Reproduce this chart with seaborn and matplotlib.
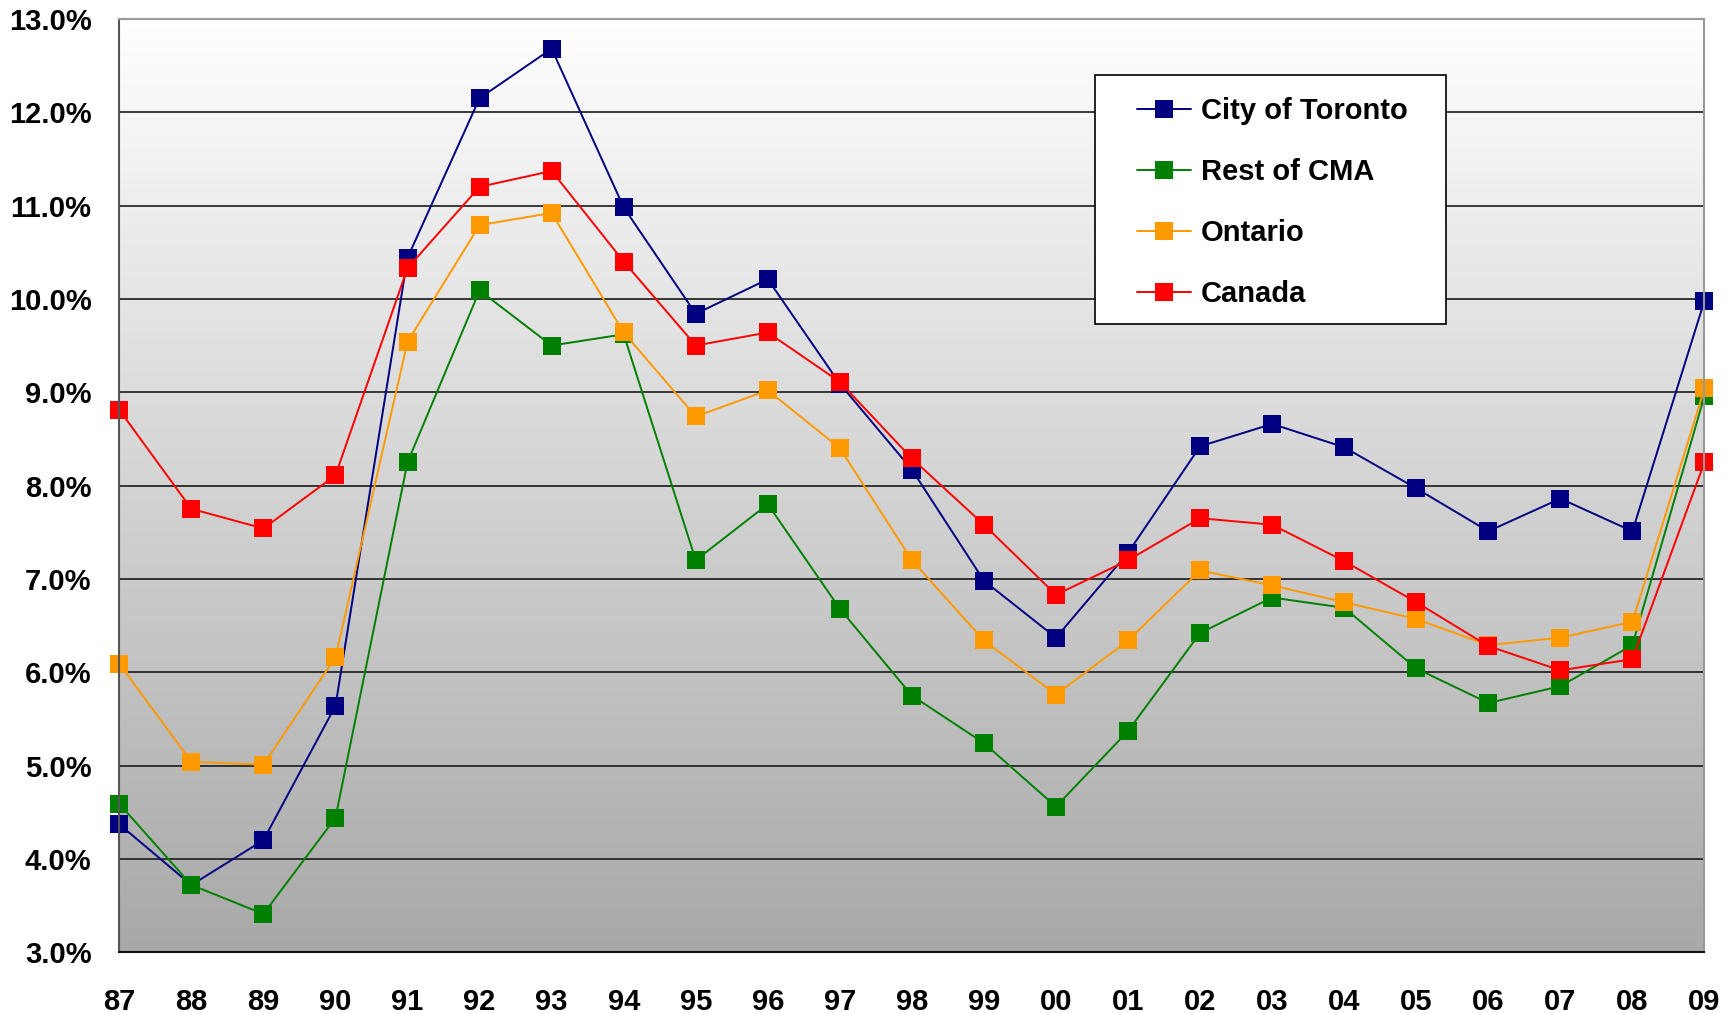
import numpy as np
import pandas as pd
import seaborn as sns
import matplotlib
matplotlib.use('Agg')
from matplotlib import pyplot as plt
from matplotlib.colors import LinearSegmentedColormap
from matplotlib.patches import Rectangle
from matplotlib.ticker import FuncFormatter

years = ['87', '88', '89', '90', '91', '92', '93', '94', '95', '96', '97', '98',
         '99', '00', '01', '02', '03', '04', '05', '06', '07', '08', '09']

toronto = [4.37, 3.72, 4.20, 5.64, 10.44, 12.15, 12.68, 10.98, 9.84, 10.21, 9.09, 8.17,
           6.98, 6.37, 7.28, 8.42, 8.66, 8.41, 7.97, 7.51, 7.86, 7.51, 9.98]
rest_cma = [4.59, 3.72, 3.41, 4.44, 8.25, 10.09, 9.50, 9.62, 7.20, 7.80, 6.68, 5.75,
            5.24, 4.56, 5.37, 6.42, 6.80, 6.69, 6.04, 5.67, 5.85, 6.29, 8.96]
ontario = [6.09, 5.04, 5.01, 6.16, 9.54, 10.79, 10.92, 9.64, 8.74, 9.02, 8.40, 7.20,
           6.34, 5.76, 6.34, 7.09, 6.93, 6.75, 6.57, 6.29, 6.37, 6.54, 9.04]
canada = [8.81, 7.75, 7.54, 8.11, 10.33, 11.20, 11.37, 10.40, 9.50, 9.64, 9.11, 8.29,
          7.58, 6.83, 7.20, 7.65, 7.58, 7.19, 6.75, 6.28, 6.02, 6.14, 8.25]

series_names = ['City of Toronto', 'Rest of CMA', 'Ontario', 'Canada']
series_colors = ['#000080', '#008000', '#FF9900', '#FF0000']

sns.set_style('white')
plt.rcParams['font.family'] = ['Liberation Sans', 'DejaVu Sans']
plt.rcParams['font.weight'] = 'bold'
plt.rcParams['text.color'] = 'black'

fig = plt.figure(figsize=(17.32, 10.13), dpi=100)
ax = fig.add_axes([0.0689, 0.0600, 0.9152, 0.9214])

# tlo z gradientem (bialy u gory -> szary u dolu)
grad = LinearSegmentedColormap.from_list('bg', ['#ffffff', '#a8a8a8'])
ax.imshow(np.linspace(0, 1, 256).reshape(-1, 1), cmap=grad, aspect='auto',
          extent=[0, len(years) - 1, 3, 13], zorder=0)

x = np.arange(len(years))
for name, vals, col in zip(series_names, [toronto, rest_cma, ontario, canada], series_colors):
    sns.lineplot(x=x, y=vals, ax=ax, color=col, marker='s', markersize=13,
                 markeredgewidth=0, linewidth=1.4, label=name, zorder=3, clip_on=False)

ax.set_xlim(0, len(years) - 1)
ax.set_ylim(3, 13)
ax.set_xticks(x)
ax.set_xticklabels(years)
ax.set_yticks(np.arange(3, 14, 1))
ax.yaxis.set_major_formatter(FuncFormatter(lambda v, p: f'{v:.1f}%'))

for v in range(4, 14):
    ax.axhline(v, color='#1a1a1a', linewidth=1.2, zorder=1)

ax.tick_params(axis='y', direction='out', length=9, width=1.2, color='#555555',
               pad=11, labelsize=21, labelcolor='black')
ax.tick_params(axis='x', direction='out', length=10, width=1.2, color='#555555',
               pad=16, labelsize=21, labelcolor='black')
for lab in ax.get_xticklabels() + ax.get_yticklabels():
    lab.set_fontweight('bold')

ax.spines['left'].set_color('#555555')
ax.spines['bottom'].set_color('#111111')
ax.spines['top'].set_color('#999999')
ax.spines['right'].set_color('#999999')
for s in ax.spines.values():
    s.set_linewidth(1.5)
    s.set_zorder(4)

# ramka legendy
ax.add_patch(Rectangle((0.6154, 0.6733), 0.2216, 0.2665, transform=ax.transAxes,
                       facecolor='white', edgecolor='black', linewidth=1.2, zorder=5))
leg = ax.legend(loc='upper left', bbox_to_anchor=(0.6423, 0.916), frameon=False,
                handlelength=1.85, handletextpad=0.32, labelspacing=1.13,
                borderpad=0, borderaxespad=0, prop={'weight': 'bold', 'size': 21},
                labelcolor='black')
leg.set_zorder(6)

fig.savefig('out.png', dpi=100)
